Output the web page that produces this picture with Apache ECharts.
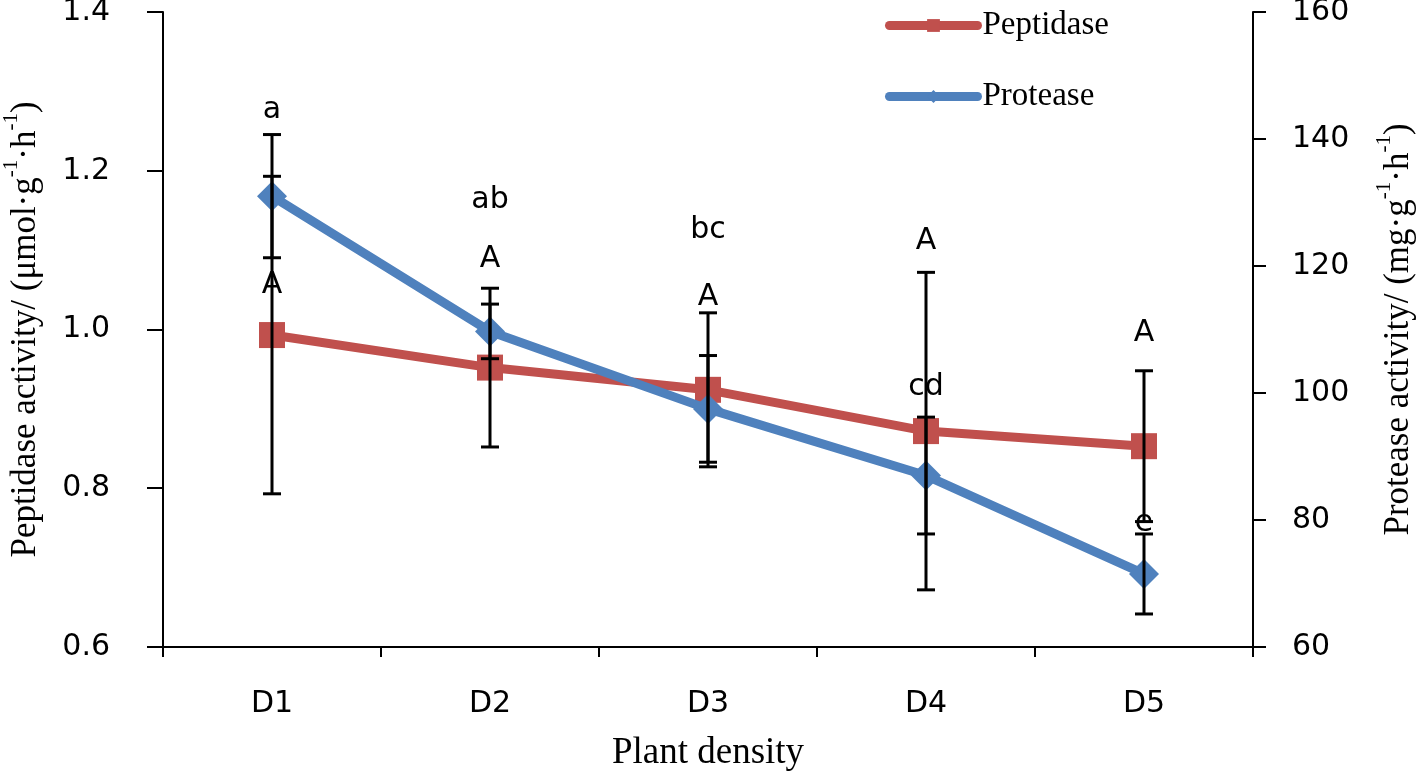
<!DOCTYPE html>
<html>
<head>
<meta charset="utf-8">
<script src="https://cdn.jsdelivr.net/npm/echarts@6/dist/echarts.min.js"></script>
<style>html,body{margin:0;padding:0;background:#fff}#c{width:1418px;height:779px}</style>
</head>
<body>
<div id="c"></div>
<script>
var categories = ['D1', 'D2', 'D3', 'D4', 'D5'];
var peptidase = [0.993, 0.952, 0.924, 0.872, 0.853];
var peptidaseErr = [0.2, 0.1, 0.097, 0.2, 0.095];
var protease = [131.0, 109.7, 97.5, 87.0, 71.5];
var proteaseErr = [9.7, 4.3, 8.4, 9.2, 6.3];
var peptidaseLetters = ['A', 'A', 'A', 'A', 'A'];
var peptidaseLetterPos = [1.056, 1.088, 1.041, 1.111, 0.995];
var proteaseLetters = ['a', 'ab', 'bc', 'cd', 'e'];
var proteaseLetterPos = [144.6, 130.4, 125.7, 100.9, 79.5];
var leftTicks = [0.6, 1.4, 0.2];
var rightTicks = [60, 160, 20];

var chart = echarts.init(document.getElementById('c'));

function errData(vals, errs) {
  return vals.map(function (v, i) { return [i, v - errs[i], v + errs[i]]; });
}
function errRender(params, api) {
  var x = api.value(0);
  var lo = api.coord([x, api.value(1)]);
  var hi = api.coord([x, api.value(2)]);
  var hw = 9;
  var st = { stroke: '#000', lineWidth: 3 };
  return {
    type: 'group',
    children: [
      { type: 'line', shape: { x1: lo[0], y1: lo[1], x2: hi[0], y2: hi[1] }, style: st },
      { type: 'line', shape: { x1: lo[0] - hw, y1: lo[1], x2: lo[0] + hw, y2: lo[1] }, style: st },
      { type: 'line', shape: { x1: hi[0] - hw, y1: hi[1], x2: hi[0] + hw, y2: hi[1] }, style: st }
    ]
  };
}
function letterData(pos, letters) {
  return pos.map(function (p, i) { return { value: [i, p], name: letters[i] }; });
}
var letterLabel = {
  show: true, position: 'inside', formatter: '{b}', opacity: 1,
  fontFamily: 'DejaVu Sans', fontSize: 30, color: '#000', textBorderWidth: 0
};
var axisNameRich = {
  n: { fontFamily: 'Liberation Serif', fontSize: 35, color: '#000', lineHeight: 42, verticalAlign: 'bottom' },
  s: { fontFamily: 'Liberation Serif', fontSize: 21, color: '#000', lineHeight: 42, verticalAlign: 'top' }
};

chart.setOption({
  animation: false,
  backgroundColor: '#fff',
  grid: { left: 163, right: 165, top: 12, bottom: 132, containLabel: false, outerBoundsMode: 'none' },
  legend: {
    orient: 'vertical', left: 880, top: 4, itemGap: 38,
    itemWidth: 88, itemHeight: 16,
    lineStyle: { width: 9, cap: 'round' },
    textStyle: { fontFamily: 'Liberation Serif', fontSize: 33, color: '#000' },
    data: ['Peptidase', 'Protease']
  },
  xAxis: {
    type: 'category', data: categories, boundaryGap: true,
    name: 'Plant density', nameLocation: 'middle', nameGap: 88,
    nameTextStyle: { fontFamily: 'Liberation Serif', fontSize: 37, color: '#000' },
    axisLine: { lineStyle: { color: '#000', width: 2 } },
    axisTick: { show: true, length: 10, lineStyle: { color: '#000', width: 2 } },
    axisLabel: { margin: 42, fontFamily: 'DejaVu Sans', fontSize: 30, color: '#000' }
  },
  yAxis: [{
    type: 'value', min: leftTicks[0], max: leftTicks[1], interval: leftTicks[2],
    name: '{n|Peptidase activity/ (μmol·g}{s|-1}{n|·h}{s|-1}{n|)}',
    nameLocation: 'middle', nameGap: 120,
    nameTextStyle: { rich: axisNameRich },
    axisLine: { show: true, lineStyle: { color: '#000', width: 2 } },
    axisTick: { show: true, length: 16, lineStyle: { color: '#000', width: 2 } },
    splitLine: { show: false },
    axisLabel: { margin: 53, fontFamily: 'DejaVu Sans', fontSize: 30, color: '#000',
      formatter: function (v) { return v.toFixed(1); } }
  }, {
    type: 'value', min: rightTicks[0], max: rightTicks[1], interval: rightTicks[2],
    position: 'right',
    name: '{n|Protease activity/ (mg·g}{s|-1}{n|·h}{s|-1}{n|)}',
    nameLocation: 'middle', nameGap: 121, nameRotate: 90,
    nameTextStyle: { rich: axisNameRich },
    axisLine: { show: true, lineStyle: { color: '#000', width: 2 } },
    axisTick: { show: true, length: 13, lineStyle: { color: '#000', width: 2 } },
    splitLine: { show: false },
    axisLabel: { margin: 39, fontFamily: 'DejaVu Sans', fontSize: 30, color: '#000' }
  }],
  series: [{
    name: 'Peptidase', type: 'line', yAxisIndex: 0, data: peptidase,
    symbol: 'rect', symbolSize: 26,
    lineStyle: { color: '#C0504D', width: 9 },
    itemStyle: { color: '#C0504D' }, z: 2
  }, {
    name: 'Protease', type: 'line', yAxisIndex: 1, data: protease,
    symbol: 'diamond', symbolSize: 30,
    lineStyle: { color: '#4F81BD', width: 9 },
    itemStyle: { color: '#4F81BD' }, z: 3
  }, {
    type: 'custom', yAxisIndex: 0, data: errData(peptidase, peptidaseErr),
    renderItem: errRender, z: 4, silent: true
  }, {
    type: 'custom', yAxisIndex: 1, data: errData(protease, proteaseErr),
    renderItem: errRender, z: 4, silent: true
  }, {
    type: 'scatter', yAxisIndex: 0, data: letterData(peptidaseLetterPos, peptidaseLetters),
    symbolSize: 1, itemStyle: { color: 'rgba(0,0,0,0)', opacity: 1 }, label: letterLabel, z: 5, silent: true
  }, {
    type: 'scatter', yAxisIndex: 1, data: letterData(proteaseLetterPos, proteaseLetters),
    symbolSize: 1, itemStyle: { color: 'rgba(0,0,0,0)', opacity: 1 }, label: letterLabel, z: 5, silent: true
  }]
});
</script>
</body>
</html>
